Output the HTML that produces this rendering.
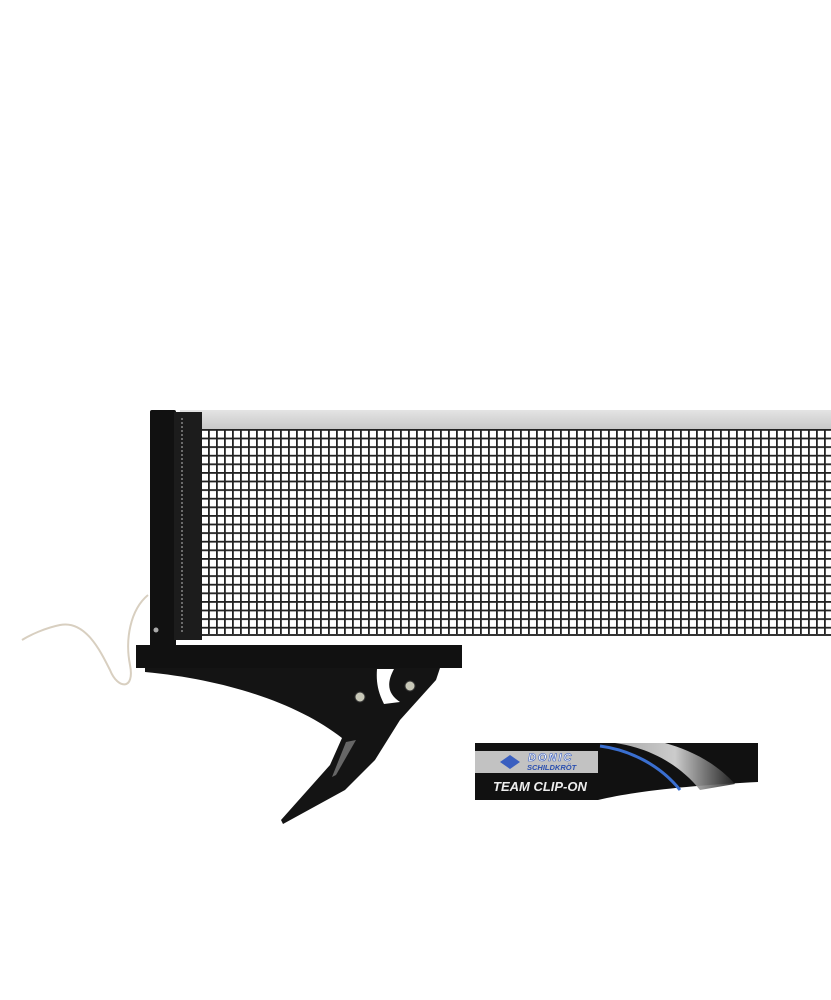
<!DOCTYPE html>
<html><head><meta charset="utf-8"><style>
html,body{margin:0;padding:0;background:#fff;}
svg{display:block}
</style></head><body>
<svg width="831" height="1000" viewBox="0 0 831 1000" xmlns="http://www.w3.org/2000/svg">
<defs>
<pattern id="mesh" x="200" y="429" width="8" height="8.6" patternUnits="userSpaceOnUse">
<rect width="8" height="8.6" fill="#fff"/>
<rect x="0" y="0" width="1.8" height="8.6" fill="#222"/>
<rect x="0" y="0" width="8" height="1.8" fill="#222"/>
</pattern>
<linearGradient id="band" x1="0" y1="0" x2="0" y2="1">
<stop offset="0" stop-color="#e4e4e4"/><stop offset="1" stop-color="#c8c8c8"/>
</linearGradient>
<linearGradient id="sw" x1="0" y1="0" x2="1" y2="0">
<stop offset="0" stop-color="#bbb"/><stop offset="0.5" stop-color="#e0e0e0"/><stop offset="1" stop-color="#222"/>
</linearGradient>
</defs>
<!-- cord -->
<path d="M148 595 C130 610,125 640,130 665 C135 690,118 690,110 670 C100 650,85 620,60 625 C45 628,30 635,22 640" fill="none" stroke="#d8cfc0" stroke-width="2"/>
<!-- top band -->
<rect x="180" y="410" width="651" height="19" fill="url(#band)"/>
<!-- mesh -->
<rect x="200" y="429" width="631" height="207" fill="url(#mesh)"/>
<rect x="200" y="634" width="631" height="2" fill="#333"/>
<!-- post -->
<rect x="150" y="410" width="26" height="240" rx="2" fill="#111"/>
<rect x="174" y="412" width="28" height="228" fill="#1c1c1c"/>
<line x1="182" y1="418" x2="182" y2="634" stroke="#bbb" stroke-width="1" stroke-dasharray="2,2"/>
<circle cx="156" cy="630" r="2.5" fill="#aaa"/>
<circle cx="155" cy="656" r="2" fill="#888"/>
<!-- clamp bar -->
<rect x="136" y="645" width="326" height="23" fill="#111"/>
<!-- arm + jaw -->
<path d="M145 668 L440 668 L436 680 L400 720 L375 760 L345 790 L283 824 L281 820 L330 765 L342 738 C300 705,230 680,145 672 Z" fill="#141414"/>
<path d="M377 669 L394 669 C386 684,388 694,400 702 L384 704 C378 692,376 682,377 669 Z" fill="#fff"/>
<path d="M346 742 L356 740 L336 775 L332 777 Z" fill="#666"/>
<circle cx="410" cy="686" r="5" fill="#c8c8b8" stroke="#333"/>
<circle cx="360" cy="697" r="5" fill="#c8c8b8" stroke="#333"/>
<!-- label -->
<rect x="475" y="743" width="123" height="57" fill="#111"/>
<rect x="475" y="751" width="123" height="22" fill="#c2c2c2"/>
<path d="M598 743 L758 743 L758 782 C700 785,640 790,598 800 Z" fill="#111"/>
<path d="M615 743 C650 748,680 765,700 790 L735 784 C715 762,690 750,665 743 Z" fill="url(#sw)" opacity="0.9"/>
<path d="M600 746 C630 750,660 765,680 790" fill="none" stroke="#3a6fd0" stroke-width="3"/>
<path d="M500 762 L510 755 L520 762 L510 769 Z" fill="#3a5fc0"/>
<text x="528" y="761" font-family="Liberation Sans, sans-serif" font-size="11" font-style="italic" font-weight="bold" fill="#fff" stroke="#3a5fc0" stroke-width="0.6" letter-spacing="2">DONIC</text>
<text x="527" y="770" font-family="Liberation Sans, sans-serif" font-size="7.5" font-style="italic" font-weight="bold" fill="#2a4fb0">SCHILDKRÖT</text>
<text x="493" y="791" font-family="Liberation Sans, sans-serif" font-size="13" font-style="italic" font-weight="bold" fill="#eee">TEAM CLIP-ON</text>
</svg>
</body></html>
